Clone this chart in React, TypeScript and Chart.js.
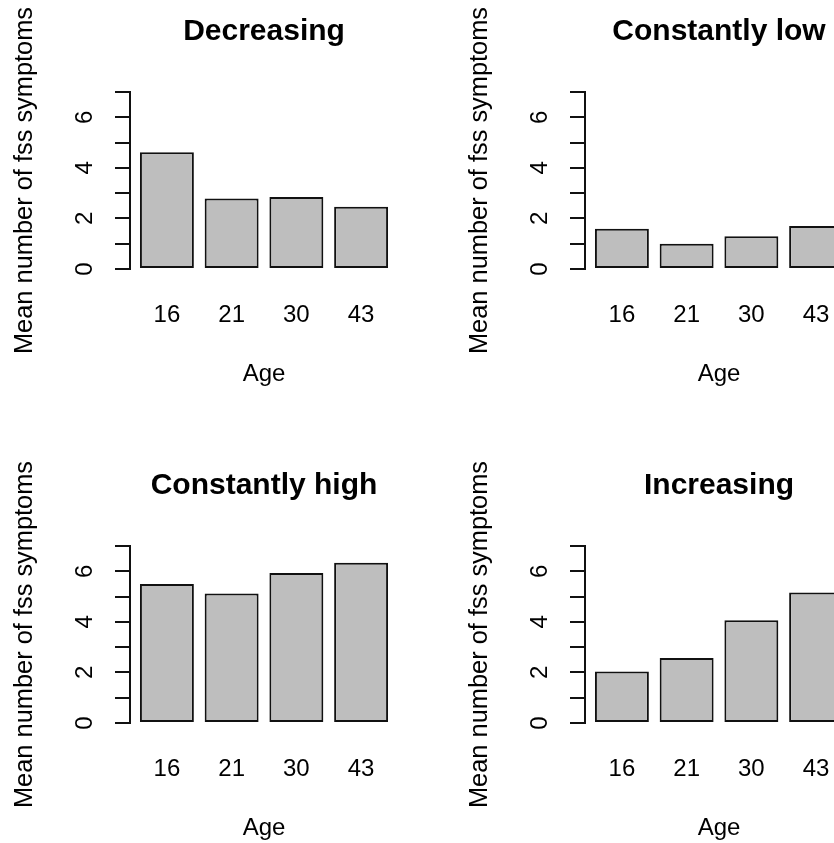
import React, { useEffect, useRef } from 'react';
import { Chart, registerables } from 'chart.js';

Chart.register(...registerables);

// ---- data ----
const ages = ['16', '21', '30', '43'];
const panelTitles = ['Decreasing', 'Constantly low', 'Constantly high', 'Increasing'];
const decreasing = [4.62, 2.79, 2.85, 2.46];
const constantlyLow = [1.59, 1.0, 1.3, 1.7];
const constantlyHigh = [5.5, 5.12, 5.93, 6.34];
const increasing = [2.04, 2.57, 4.06, 5.16];
const yLabelledTicks = [0, 2, 4, 6];
const xAxisTitle = 'Age';
const yAxisTitle = 'Mean number of fss symptoms';

const FAMILY = '"Liberation Sans", Arial, Helvetica, sans-serif';
const PANEL_W = 455;
const PANEL_H = 454;

type PanelProps = { title: string; values: number[]; left: number; top: number };

function Panel({ title, values, left, top }: PanelProps) {
  const ref = useRef<HTMLCanvasElement | null>(null);
  useEffect(() => {
    if (!ref.current) return;
    const chart = new Chart(ref.current, {
      type: 'bar',
      data: {
        datasets: [
          {
            data: values.map((v, i) => ({ x: i, y: v })),
            backgroundColor: '#BEBEBE',
            borderColor: '#111111',
            borderWidth: 2,
            borderSkipped: false,
            categoryPercentage: 1,
            barPercentage: 1 / 1.2,
          } as any,
        ],
      },
      options: {
        animation: false,
        responsive: false,
        events: [],
        layout: { padding: { left: 0, top: 0, right: 57, bottom: 0 } },
        plugins: {
          legend: { display: false },
          tooltip: { enabled: false },
          title: {
            display: true,
            text: title,
            fullSize: false,
            color: '#000',
            font: { family: FAMILY, size: 30, weight: 'bold' },
            padding: { top: 14, bottom: 42 },
          },
        },
        scales: {
          x: {
            type: 'linear',
            offset: false,
            min: -0.57,
            max: 3.57,
            grid: { display: false, drawTicks: false },
            border: { display: false },
            afterBuildTicks: (s: any) => {
              s.ticks = ages.map((_, i) => ({ value: i }));
            },
            afterFit: (s: any) => {
              s.height = 185;
            },
            ticks: {
              autoSkip: false,
              maxRotation: 0,
              minRotation: 0,
              padding: 32,
              color: '#000',
              font: { family: FAMILY, size: 24 },
              callback: (v: any) => ages[v as number] ?? '',
            },
            title: {
              display: true,
              text: xAxisTitle,
              color: '#000',
              font: { family: FAMILY, size: 24 },
              padding: { top: 0, bottom: 65 },
            },
          },
          y: {
            type: 'linear',
            min: 0,
            max: 7,
            afterFit: (s: any) => {
              s.width = 130;
            },
            ticks: {
              stepSize: 1,
              minRotation: 90,
              maxRotation: 90,
              crossAlign: 'center',
              padding: 23,
              color: '#000',
              font: { family: FAMILY, size: 24 },
              callback: (v: any) => (yLabelledTicks.includes(v as number) ? String(v) : ''),
            },
            grid: {
              drawOnChartArea: false,
              drawTicks: true,
              tickLength: 15,
              color: '#111',
              lineWidth: 2,
            },
            border: { display: true, color: '#111', width: 2 },
            title: {
              display: true,
              text: yAxisTitle,
              color: '#000',
              font: { family: FAMILY, size: 25.4 },
              padding: { top: 10, bottom: 0 },
            },
          },
        },
      } as any,
    });
    return () => chart.destroy();
  }, [title, values]);
  return (
    <canvas
      ref={ref}
      width={PANEL_W}
      height={PANEL_H}
      style={{ position: 'absolute', left, top, width: PANEL_W, height: PANEL_H }}
    />
  );
}

export default function App() {
  const series = [decreasing, constantlyLow, constantlyHigh, increasing];
  return (
    <div
      style={{
        position: 'absolute',
        left: 0,
        top: 0,
        width: 834,
        height: 843,
        overflow: 'hidden',
        background: '#fff',
      }}
    >
      {series.map((vals, i) => (
        <Panel
          key={panelTitles[i]}
          title={panelTitles[i]}
          values={vals}
          left={(i % 2) * PANEL_W}
          top={Math.floor(i / 2) * PANEL_H}
        />
      ))}
    </div>
  );
}
